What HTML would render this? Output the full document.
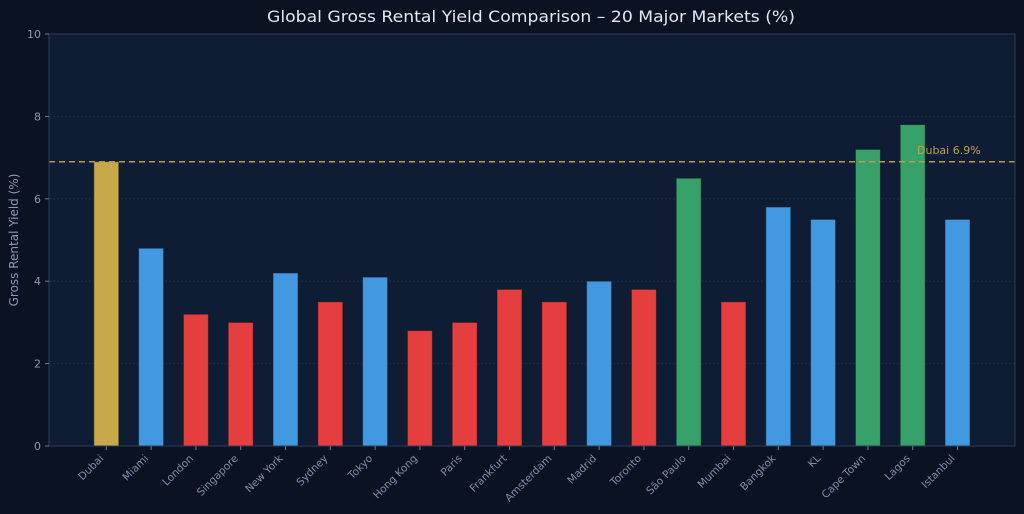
<!DOCTYPE html>
<html>
<head>
<meta charset="utf-8">
<style>
  html,body{margin:0;padding:0;background:#0b1322;}
  svg{display:block;}
  text{font-family:"DejaVu Sans","Liberation Sans",sans-serif;}
</style>
</head>
<body>
<svg width="1024" height="514" viewBox="0 0 1024 514" xmlns="http://www.w3.org/2000/svg">
  <rect x="0" y="0" width="1024" height="514" fill="#0b1322"/>
  <!-- plot area -->
  <rect x="49" y="34" width="966" height="412" fill="#0f1d34"/>
  <!-- grid -->
  <g stroke="#22324d" stroke-width="0.8" stroke-dasharray="2,2">
    <line x1="49" y1="363.6" x2="1015" y2="363.6"/>
    <line x1="49" y1="281.2" x2="1015" y2="281.2"/>
    <line x1="49" y1="198.8" x2="1015" y2="198.8"/>
    <line x1="49" y1="116.4" x2="1015" y2="116.4"/>
  </g>
  <!-- bars -->
  <g stroke="#0b1322" stroke-opacity="0.5" stroke-width="1">
    <rect x="93.8"  y="161.7" width="25" height="284.3" fill="#c9a84c"/>
    <rect x="138.6" y="248.2" width="25" height="197.8" fill="#4299e1"/>
    <rect x="183.4" y="314.2" width="25" height="131.8" fill="#e53e3e"/>
    <rect x="228.2" y="322.4" width="25" height="123.6" fill="#e53e3e"/>
    <rect x="273.0" y="273.0" width="25" height="173.0" fill="#4299e1"/>
    <rect x="317.8" y="301.8" width="25" height="144.2" fill="#e53e3e"/>
    <rect x="362.6" y="277.1" width="25" height="168.9" fill="#4299e1"/>
    <rect x="407.4" y="330.6" width="25" height="115.4" fill="#e53e3e"/>
    <rect x="452.2" y="322.4" width="25" height="123.6" fill="#e53e3e"/>
    <rect x="497.0" y="289.4" width="25" height="156.6" fill="#e53e3e"/>
    <rect x="541.8" y="301.8" width="25" height="144.2" fill="#e53e3e"/>
    <rect x="586.6" y="281.2" width="25" height="164.8" fill="#4299e1"/>
    <rect x="631.4" y="289.4" width="25" height="156.6" fill="#e53e3e"/>
    <rect x="676.2" y="178.2" width="25" height="267.8" fill="#38a169"/>
    <rect x="721.0" y="301.8" width="25" height="144.2" fill="#e53e3e"/>
    <rect x="765.8" y="207.0" width="25" height="239.0" fill="#4299e1"/>
    <rect x="810.6" y="219.4" width="25" height="226.6" fill="#4299e1"/>
    <rect x="855.4" y="149.4" width="25" height="296.6" fill="#38a169"/>
    <rect x="900.2" y="124.6" width="25" height="321.4" fill="#38a169"/>
    <rect x="945.0" y="219.4" width="25" height="226.6" fill="#4299e1"/>
  </g>
  <!-- Dubai reference line -->
  <line x1="49" y1="161.7" x2="1015" y2="161.7" stroke="#b89c4a" stroke-width="1.5" stroke-dasharray="6,4"/>
  <text x="917" y="154" font-size="11" fill="#c2a24a">Dubai 6.9%</text>
  <!-- spines -->
  <rect x="49" y="34" width="966" height="412" fill="none" stroke="#2c3c57" stroke-width="1"/>
  <!-- y ticks -->
  <g stroke="#6b7a93" stroke-width="1">
    <line x1="45" y1="446" x2="49" y2="446"/>
    <line x1="45" y1="363.6" x2="49" y2="363.6"/>
    <line x1="45" y1="281.2" x2="49" y2="281.2"/>
    <line x1="45" y1="198.8" x2="49" y2="198.8"/>
    <line x1="45" y1="116.4" x2="49" y2="116.4"/>
    <line x1="45" y1="34" x2="49" y2="34"/>
  </g>
  <g font-size="11" fill="#8b9ab2" text-anchor="end">
    <text x="41" y="450">0</text>
    <text x="41" y="367.6">2</text>
    <text x="41" y="285.2">4</text>
    <text x="41" y="202.8">6</text>
    <text x="41" y="120.4">8</text>
    <text x="41" y="38">10</text>
  </g>
  <!-- x ticks -->
  <g stroke="#6b7a93" stroke-width="1">
    <line x1="106.3" y1="446" x2="106.3" y2="450"/>
    <line x1="151.1" y1="446" x2="151.1" y2="450"/>
    <line x1="195.9" y1="446" x2="195.9" y2="450"/>
    <line x1="240.7" y1="446" x2="240.7" y2="450"/>
    <line x1="285.5" y1="446" x2="285.5" y2="450"/>
    <line x1="330.3" y1="446" x2="330.3" y2="450"/>
    <line x1="375.1" y1="446" x2="375.1" y2="450"/>
    <line x1="419.9" y1="446" x2="419.9" y2="450"/>
    <line x1="464.7" y1="446" x2="464.7" y2="450"/>
    <line x1="509.5" y1="446" x2="509.5" y2="450"/>
    <line x1="554.3" y1="446" x2="554.3" y2="450"/>
    <line x1="599.1" y1="446" x2="599.1" y2="450"/>
    <line x1="643.9" y1="446" x2="643.9" y2="450"/>
    <line x1="688.7" y1="446" x2="688.7" y2="450"/>
    <line x1="733.5" y1="446" x2="733.5" y2="450"/>
    <line x1="778.3" y1="446" x2="778.3" y2="450"/>
    <line x1="823.1" y1="446" x2="823.1" y2="450"/>
    <line x1="867.9" y1="446" x2="867.9" y2="450"/>
    <line x1="912.7" y1="446" x2="912.7" y2="450"/>
    <line x1="957.5" y1="446" x2="957.5" y2="450"/>
  </g>
  <g font-size="10.5" fill="#7f8ea8" text-anchor="end">
    <text transform="translate(104.3,459) rotate(-45)">Dubai</text>
    <text transform="translate(149.1,459) rotate(-45)">Miami</text>
    <text transform="translate(193.9,459) rotate(-45)">London</text>
    <text transform="translate(238.7,459) rotate(-45)">Singapore</text>
    <text transform="translate(283.5,459) rotate(-45)">New York</text>
    <text transform="translate(328.3,459) rotate(-45)">Sydney</text>
    <text transform="translate(373.1,459) rotate(-45)">Tokyo</text>
    <text transform="translate(417.9,459) rotate(-45)">Hong Kong</text>
    <text transform="translate(462.7,459) rotate(-45)">Paris</text>
    <text transform="translate(507.5,459) rotate(-45)">Frankfurt</text>
    <text transform="translate(552.3,459) rotate(-45)">Amsterdam</text>
    <text transform="translate(597.1,459) rotate(-45)">Madrid</text>
    <text transform="translate(641.9,459) rotate(-45)">Toronto</text>
    <text transform="translate(686.7,459) rotate(-45)">São Paulo</text>
    <text transform="translate(731.5,459) rotate(-45)">Mumbai</text>
    <text transform="translate(776.3,459) rotate(-45)">Bangkok</text>
    <text transform="translate(821.1,459) rotate(-45)">KL</text>
    <text transform="translate(865.9,459) rotate(-45)">Cape Town</text>
    <text transform="translate(910.7,459) rotate(-45)">Lagos</text>
    <text transform="translate(955.5,459) rotate(-45)">Istanbul</text>
  </g>
  <!-- y label -->
  <text transform="translate(18,240) rotate(-90)" font-size="12" fill="#8b9ab2" text-anchor="middle">Gross Rental Yield (%)</text>
  <!-- title -->
  <text x="531" y="22" font-size="16" fill="#e2e8f0" text-anchor="middle" textLength="528" lengthAdjust="spacingAndGlyphs">Global Gross Rental Yield Comparison – 20 Major Markets (%)</text>
</svg>
</body>
</html>
